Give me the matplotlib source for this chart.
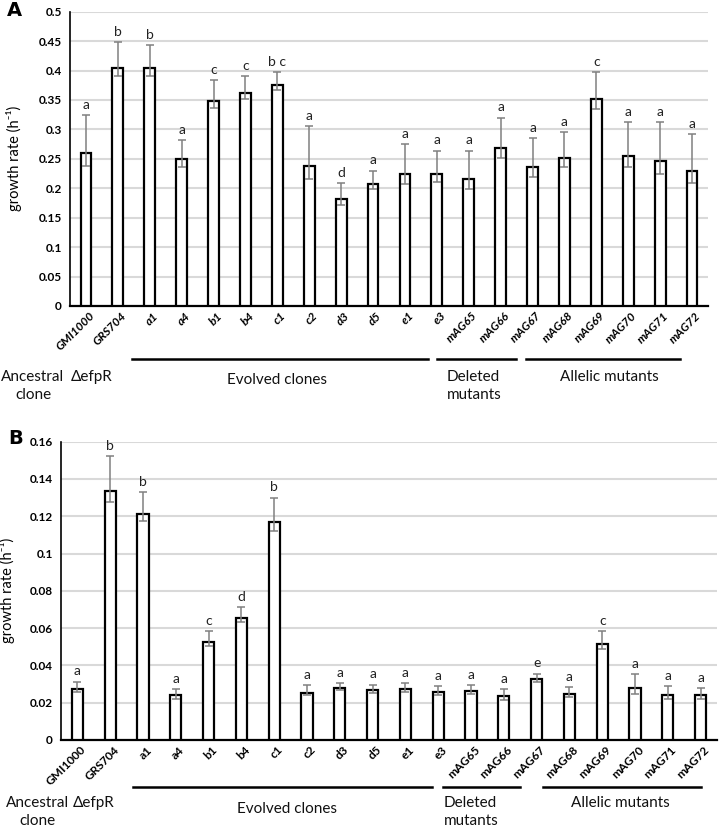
import matplotlib
matplotlib.use("Agg")
import matplotlib.pyplot as plt
import matplotlib.transforms as mtransforms
import numpy as np

plt.rcParams['font.family'] = ['Lato', 'DejaVu Sans']

categories = ["GMI1000", "GRS704", "a1", "a4", "b1", "b4", "c1", "c2", "d3", "d5",
              "e1", "e3", "mAG65", "mAG66", "mAG67", "mAG68", "mAG69", "mAG70", "mAG71", "mAG72"]

# Panel A
a_values = [0.260, 0.405, 0.404, 0.249, 0.348, 0.362, 0.375, 0.238, 0.181, 0.207,
            0.225, 0.225, 0.215, 0.269, 0.236, 0.252, 0.352, 0.254, 0.246, 0.230]
a_err_hi = [0.325, 0.448, 0.443, 0.282, 0.384, 0.391, 0.397, 0.306, 0.209, 0.230,
            0.275, 0.264, 0.264, 0.320, 0.285, 0.296, 0.398, 0.313, 0.312, 0.292]
a_err_lo = [0.238, 0.391, 0.391, 0.237, 0.336, 0.352, 0.367, 0.216, 0.171, 0.199,
            0.208, 0.211, 0.198, 0.252, 0.220, 0.236, 0.335, 0.236, 0.225, 0.209]
a_letters = ["a", "b", "b", "a", "c", "c", "b c", "a", "d", "a",
             "a", "a", "a", "a", "a", "a", "c", "a", "a", "a"]
a_yticks = [0, 0.05, 0.1, 0.15, 0.2, 0.25, 0.3, 0.35, 0.4, 0.45, 0.5]
a_yticklabels = ["0", "0.05", "0.1", "0.15", "0.2", "0.25", "0.3", "0.35", "0.4", "0.45", "0.5"]

# Panel B
b_values = [0.0275, 0.1337, 0.1212, 0.0240, 0.0527, 0.0656, 0.1171, 0.0254, 0.0281, 0.0268,
            0.0275, 0.0259, 0.0265, 0.0236, 0.0329, 0.0247, 0.0513, 0.0279, 0.0240, 0.0240]
b_err_hi = [0.0313, 0.1523, 0.1330, 0.0275, 0.0583, 0.0711, 0.1300, 0.0295, 0.0307, 0.0297,
            0.0307, 0.0291, 0.0293, 0.0275, 0.0356, 0.0284, 0.0583, 0.0354, 0.0288, 0.0279]
b_err_lo = [0.0259, 0.1278, 0.1173, 0.0218, 0.0506, 0.0635, 0.1123, 0.0240, 0.0266, 0.0254,
            0.0257, 0.0243, 0.0247, 0.0215, 0.0311, 0.0232, 0.0490, 0.0247, 0.0222, 0.0222]
b_letters = ["a", "b", "b", "a", "c", "d", "b", "a", "a", "a",
             "a", "a", "a", "a", "e", "a", "c", "a", "a", "a"]
b_yticks = [0, 0.02, 0.04, 0.06, 0.08, 0.1, 0.12, 0.14, 0.16]
b_yticklabels = ["0", "0.02", "0.04", "0.06", "0.08", "0.1", "0.12", "0.14", "0.16"]

W, H = 719, 835
fig = plt.figure(figsize=(W / 100, H / 100), dpi=100)


def px_axes(left, right, top, bottom):
    return fig.add_axes([left / W, 1 - bottom / H, (right - left) / W, (bottom - top) / H])


def draw_panel(ax, values, hi, lo, letters, yticks, yticklabels, ymax, italic, groups, texts):
    x = np.arange(len(categories))
    ax.bar(x, values, width=0.34, color="white", edgecolor="black", linewidth=1.6, zorder=3)
    v = np.array(values)
    yerr = np.vstack([v - np.array(lo), np.array(hi) - v])
    ax.errorbar(x, v, yerr=yerr, fmt="none", ecolor="#808080", elinewidth=1.1,
                capsize=2.6, capthick=1.1, zorder=4)
    for xi, h, t in zip(x, hi, letters):
        ax.annotate(t, (xi, h), xytext=(0, 3), textcoords="offset points",
                    ha="center", va="bottom", fontsize=10, color="#222222")
    ax.set_xlim(-0.5, len(categories) - 0.5)
    ax.set_ylim(0, ymax)
    ax.set_yticks(yticks)
    ax.set_yticklabels(yticklabels, fontsize=8.5, fontweight="bold")
    ax.yaxis.grid(True, color="#d9d9d9", linewidth=1.5, zorder=0)
    ax.set_axisbelow(True)
    ax.tick_params(axis="y", length=0, pad=6)
    ax.tick_params(axis="x", length=0, pad=3)
    ax.set_xticks(x)
    ax.set_xticklabels(categories, rotation=45, ha="right", rotation_mode="anchor",
                       fontsize=8.5, fontweight="bold", fontstyle="italic" if italic else "normal")
    off = mtransforms.ScaledTranslation(3 / 100, 0, fig.dpi_scale_trans)
    for lab in ax.get_xticklabels():
        lab.set_transform(lab.get_transform() + off)
    for s in ["top", "right"]:
        ax.spines[s].set_visible(False)
    ax.spines["left"].set_linewidth(1.2)
    ax.spines["bottom"].set_linewidth(1.6)
    ax.set_ylabel("growth rate (h\u207b\u00b9)", fontsize=10.5)
    trans = mtransforms.blended_transform_factory(ax.transData, ax.transAxes)
    for x0, x1, yy in groups:
        ax.plot([x0, x1], [yy, yy], color="black", linewidth=1.8, transform=trans, clip_on=False)
    for tx, ty, s, ha in texts:
        ax.text(tx, ty, s, transform=trans, ha=ha, va="top", fontsize=11,
                linespacing=1.35, multialignment="left" if ha == "left" else "center",
                color="#111111")


axA = px_axes(70, 708, 11.7, 306)
ga = -0.18
draw_panel(axA, a_values, a_err_hi, a_err_lo, a_letters, a_yticks, a_yticklabels, 0.5, True,
           [(1.44, 10.72, ga), (11.0, 13.48, ga), (13.79, 18.62, ga)],
           [(-1.66, -0.218, "Ancestral\nclone", "center"),
            (0.19, -0.218, "\u0394efpR", "center"),
            (6.0, -0.228, "Evolved clones", "center"),
            (11.3, -0.218, "Deleted\nmutants", "left"),
            (16.4, -0.218, "Allelic mutants", "center")])
axA.yaxis.set_label_coords(-0.075, 0.5)

axB = px_axes(61, 717, 441.7, 740)
gb = -0.158
draw_panel(axB, b_values, b_err_hi, b_err_lo, b_letters, b_yticks, b_yticklabels, 0.16, False,
           [(1.71, 10.82, gb), (11.16, 13.5, gb), (14.2, 19.0, gb)],
           [(-1.23, -0.188, "Ancestral\nclone", "center"),
            (0.49, -0.188, "\u0394efpR", "center"),
            (6.4, -0.208, "Evolved clones", "center"),
            (11.16, -0.188, "Deleted\nmutants", "left"),
            (16.55, -0.188, "Allelic mutants", "center")])
axB.yaxis.set_label_coords(-0.07, 0.5)

fig.text(7 / W, 1 - 10 / H, "A", fontsize=14, fontweight="bold", va="center", ha="left",
         family="DejaVu Sans")
fig.text(8 / W, 1 - 439 / H, "B", fontsize=14, fontweight="bold", va="center", ha="left",
         family="DejaVu Sans")

fig.savefig("out.png", dpi=100)
